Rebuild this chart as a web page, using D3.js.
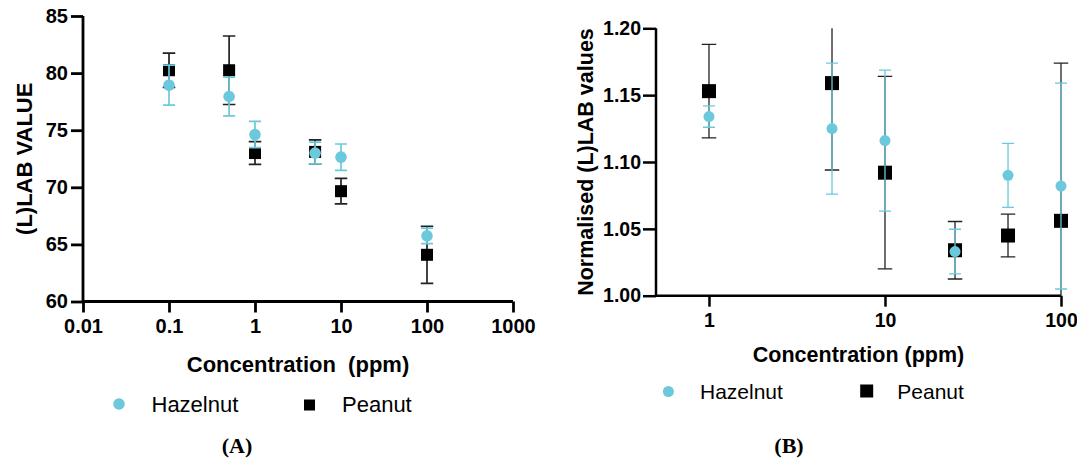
<!DOCTYPE html>
<html>
<head>
<meta charset="utf-8">
<script src="https://cdn.jsdelivr.net/npm/d3@7"></script>
<style>
  body { margin: 0; background: #fff; }
  svg { display: block; }
  text { font-family: "Liberation Sans", Arial, sans-serif; }
</style>
</head>
<body>
<svg id="chart" width="1077" height="459"></svg>
<script>
// ---------- Data ----------
const seriesNames = ["Hazelnut", "Peanut"];

// Panel A
const concA = [0.1, 0.5, 1, 5, 10, 100];
const hazelnutA = [78.94, 77.95, 74.62, 73.0, 72.64, 65.75];
const hazelnutAErr = [1.75, 1.7, 1.15, 0.95, 1.15, 0.68];
const peanutA = [80.25, 80.25, 73.0, 73.1, 69.66, 64.09];
const peanutAErr = [1.5, 3.0, 1.0, 1.05, 1.12, 2.5];
const xTicksA = [0.01, 0.1, 1, 10, 100, 1000];
const xTickLabelsA = ["0.01", "0.1", "1", "10", "100", "1000"];
const yTicksA = [60, 65, 70, 75, 80, 85];

// Panel B
const concB = [1, 5, 10, 25, 50, 100];
const hazelnutB = [1.134, 1.125, 1.116, 1.033, 1.090, 1.082];
const hazelnutBErr = [0.008, 0.049, 0.0527, 0.0167, 0.024, 0.077];
const peanutB = [1.153, 1.159, 1.092, 1.034, 1.045, 1.056];
const peanutBErr = [0.035, 0.065, 0.072, 0.0215, 0.016, 0.118];
const xTicksB = [1, 10, 100];
const yTicksB = [1.00, 1.05, 1.10, 1.15, 1.20];

// ---------- Styles ----------
const CYAN = "#6cc8db";
const BLACK = "#000";

const svg = d3.select("#chart");

function drawPanel(cfg) {
  const g = svg.append("g");
  const x = d3.scaleLog().domain(cfg.xDomain).range([cfg.left, cfg.right]);
  const y = d3.scaleLinear().domain(cfg.yDomain).range([cfg.bottom, cfg.top]);

  const clipId = "clip" + cfg.id;
  svg.append("defs").append("clipPath").attr("id", clipId)
    .append("rect")
    .attr("x", cfg.left - 20).attr("y", cfg.top)
    .attr("width", cfg.right - cfg.left + 40).attr("height", cfg.bottom - cfg.top);

  // axes
  const yAxis = d3.axisLeft(y).tickValues(cfg.yTicks).tickFormat(cfg.yFormat)
    .tickSize(cfg.yTickSize).tickPadding(cfg.yTickPad).tickSizeOuter(0);
  const gy = g.append("g").attr("transform", `translate(${cfg.left},0)`).call(yAxis);

  const xAxis = d3.axisBottom(x).tickValues(cfg.xTicks)
    .tickFormat((d, i) => cfg.xLabels[i])
    .tickSize(cfg.xTickSize).tickPadding(cfg.xTickPad).tickSizeOuter(0);
  const gx = g.append("g").attr("transform", `translate(0,${cfg.bottom})`).call(xAxis);

  [gx, gy].forEach(a => {
    a.select(".domain").attr("stroke", "#000").attr("stroke-width", cfg.axisW);
    a.selectAll(".tick line").attr("stroke", "#000").attr("stroke-width", cfg.axisW);
    a.selectAll(".tick text")
      .attr("fill", "#000")
      .style("font-family", '"Liberation Sans", Arial, sans-serif')
      .style("font-weight", "bold");
  });
  gx.selectAll(".tick text").style("font-size", cfg.xTickFont + "px");
  gy.selectAll(".tick text").style("font-size", cfg.yTickFont + "px");
  gx.select(".domain").attr("d", `M${cfg.left},0H${cfg.right}`);
  gy.select(".domain").attr("d", `M0,${cfg.bottom}V${cfg.top}`);

  // series drawing
  const plot = g.append("g").attr("clip-path", `url(#${clipId})`);
  function errBars(vals, errs, color, capW, lw) {
    const eg = plot.append("g").attr("stroke", color).attr("stroke-width", lw).attr("fill", "none");
    cfg.conc.forEach((c, i) => {
      const cx = x(c), yt = y(vals[i] + errs[i]), yb = y(vals[i] - errs[i]);
      eg.append("line").attr("x1", cx).attr("x2", cx).attr("y1", yt).attr("y2", yb);
      eg.append("line").attr("x1", cx - capW / 2).attr("x2", cx + capW / 2).attr("y1", yt).attr("y2", yt);
      eg.append("line").attr("x1", cx - capW / 2).attr("x2", cx + capW / 2).attr("y1", yb).attr("y2", yb);
    });
  }
  errBars(cfg.peanut, cfg.peanutErr, "#222", cfg.capBlack, cfg.errW);
  plot.append("g").selectAll("rect").data(cfg.conc).join("rect")
    .attr("x", (d) => x(d) - cfg.sq / 2)
    .attr("y", (d, i) => y(cfg.peanut[i]) - cfg.sq / 2)
    .attr("width", cfg.sq).attr("height", cfg.sq).attr("fill", BLACK);
  errBars(cfg.hazel, cfg.hazelErr, CYAN, cfg.capCyan, cfg.errW);
  plot.append("g").selectAll("circle").data(cfg.conc).join("circle")
    .attr("cx", (d) => x(d))
    .attr("cy", (d, i) => y(cfg.hazel[i]))
    .attr("r", cfg.r).attr("fill", CYAN);

  // axis titles
  g.append("text")
    .attr("transform", `translate(${cfg.yTitleX},${(cfg.top + cfg.bottom) / 2}) rotate(-90)`)
    .attr("text-anchor", "middle")
    .style("font-weight", "bold").style("font-size", cfg.yTitleFont + "px")
    .text(cfg.yTitle);
  g.append("text")
    .attr("x", (cfg.left + cfg.right) / 2).attr("y", cfg.xTitleY)
    .attr("text-anchor", "middle")
    .style("font-weight", "bold").style("font-size", cfg.xTitleFont + "px")
    .style("white-space", "pre")
    .text(cfg.xTitle);

  // legend
  const lg = g.append("g");
  lg.append("circle").attr("cx", cfg.leg.cx).attr("cy", cfg.leg.cy).attr("r", cfg.r).attr("fill", CYAN);
  lg.append("text").attr("x", cfg.leg.t1x).attr("y", cfg.leg.ty)
    .style("font-size", cfg.leg.font + "px").text(seriesNames[0]);
  lg.append("rect").attr("x", cfg.leg.sx - cfg.leg.sq / 2).attr("y", cfg.leg.sy - cfg.leg.sq / 2)
    .attr("width", cfg.leg.sq).attr("height", cfg.leg.sq).attr("fill", BLACK);
  lg.append("text").attr("x", cfg.leg.t2x).attr("y", cfg.leg.ty)
    .style("font-size", cfg.leg.font + "px").text(seriesNames[1]);

  // panel label
  g.append("text").attr("x", cfg.panelX).attr("y", 453)
    .attr("text-anchor", "middle")
    .style("font-family", '"Liberation Serif", "Times New Roman", serif')
    .style("font-weight", "bold").style("font-size", "22px")
    .text(cfg.panelLabel);
}

drawPanel({
  id: "A",
  left: 83, right: 513, top: 16, bottom: 301.5,
  xDomain: [0.01, 1000], yDomain: [60, 85],
  xTicks: xTicksA, xLabels: xTickLabelsA, yTicks: yTicksA, yFormat: d3.format("d"),
  xTickSize: 11, xTickPad: 6, yTickSize: 12, yTickPad: 3,
  xTickFont: 20, yTickFont: 20, axisW: 2.8,
  conc: concA, hazel: hazelnutA, hazelErr: hazelnutAErr, peanut: peanutA, peanutErr: peanutAErr,
  capBlack: 12.5, capCyan: 12, errW: 1.7, sq: 12, r: 5.8,
  yTitle: "(L)LAB VALUE", yTitleX: 32, yTitleFont: 22,
  xTitle: "Concentration  (ppm)", xTitleY: 372, xTitleFont: 22,
  leg: { cx: 119, cy: 404, t1x: 151.5, ty: 411.5, font: 22, sx: 309.5, sy: 405, sq: 11, t2x: 342 },
  panelX: 237, panelLabel: "(A)"
});

drawPanel({
  id: "B",
  left: 656, right: 1061, top: 28.3, bottom: 295.7,
  xDomain: [0.5, 100], yDomain: [1.0, 1.2],
  xTicks: xTicksB, xLabels: xTicksB.map(String), yTicks: yTicksB, yFormat: d3.format(".2f"),
  xTickSize: 11, xTickPad: 6, yTickSize: 13, yTickPad: 2,
  xTickFont: 19.5, yTickFont: 19.5, axisW: 2.5,
  conc: concB, hazel: hazelnutB, hazelErr: hazelnutBErr, peanut: peanutB, peanutErr: peanutBErr,
  capBlack: 14.5, capCyan: 12, errW: 1.3, sq: 14, r: 5.5,
  yTitle: "Normalised (L)LAB values", yTitleX: 593, yTitleFont: 21.5,
  xTitle: "Concentration (ppm)", xTitleY: 362, xTitleFont: 21.5,
  leg: { cx: 668.4, cy: 391.5, t1x: 700, ty: 398.5, font: 21, sx: 866.7, sy: 391, sq: 13, t2x: 897.3 },
  panelX: 789, panelLabel: "(B)"
});
</script>
</body>
</html>
